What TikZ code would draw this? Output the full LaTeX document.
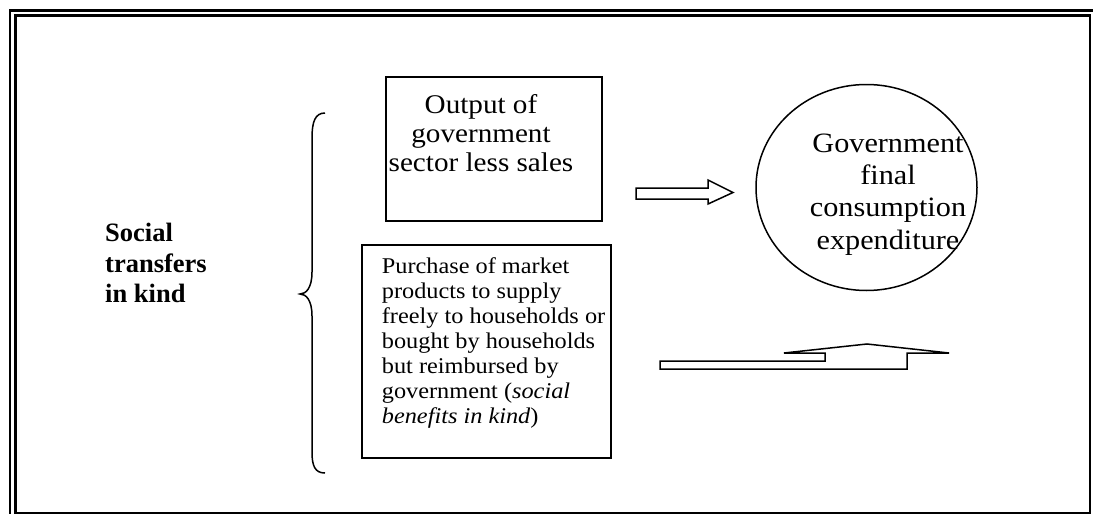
\documentclass[tikz,border=0pt]{standalone}
\usepackage{fontspec}
\setmainfont{Liberation Serif}
\newfontfamily\widefont{Liberation Serif}[FakeStretch=1.08]
\usetikzlibrary{shapes.geometric}
\begin{document}
\begin{tikzpicture}[x=1pt,y=-1pt,
  framel/.style={line width=2.5pt},
  boxstyle/.style={draw, line width=1.6pt, inner sep=0pt},
  hollow/.style={draw, line width=1.5pt, line join=miter},
  txt/.style={inner sep=0pt, anchor=base}]
\useasboundingbox (0,0) rectangle (1093,514);
% frame
\draw[framel] (10,514) -- (10,10.4) -- (1093,10.4);
\draw[framel] (15.4,514) -- (15.4,15.4) -- (1089.8,15.4) -- (1089.8,512.8) -- (15.4,512.8);
% top box
\node[boxstyle, minimum width=216, minimum height=144] (top) at (494,149) {};
\node[txt, align=center, font=\widefont\fontsize{27}{29}\selectfont] (toptxt) at (481,171) {Output of\\government\\sector less sales};
% ellipse
\node[draw, ellipse, line width=1.5pt, minimum width=221, minimum height=206, inner sep=0pt] (gfce) at (866.5,187.5) {};
\node[txt, align=center, font=\widefont\fontsize{28}{32.2}\selectfont] (gfcetxt) at (888,249) {Government\\final\\consumption\\expenditure};
% bottom box
\node[boxstyle, minimum width=249, minimum height=213] (bot) at (486.5,351.5) {};
\node[txt, anchor=base west, align=left, font=\widefont\fontsize{22.5}{25}\selectfont] (bottxt) at (381.7,423.3) {Purchase of market\\products to supply\\freely to households or\\bought by households\\but reimbursed by\\government (\textit{social}\\\textit{benefits in kind})};
% left label
\node[txt, anchor=base west, align=left, font=\fontsize{26.5}{30.5}\selectfont\bfseries] (stik) at (105,302.7) {Social\\transfers\\in kind};
% brace
\draw[line width=1.5pt] (325,113) .. controls (315,113) and (312,122) .. (312,138) -- (312,272)
  .. controls (312,288) and (306,294) .. (300,294)
  .. controls (306,294) and (312,300) .. (312,316) -- (312,452)
  .. controls (312,466) and (315,473) .. (325,473);
% hollow right arrow
\draw[hollow] (636,188) -- (708,188) -- (708,180) -- (733,192.5) -- (708,204) -- (708,199) -- (636,199) -- cycle;
% odd up arrow
\draw[hollow] (660,361) -- (825,361) -- (825,353) -- (784,353) -- (867,344) -- (949,353) -- (907,353) -- (907,369) -- (660,369) -- cycle;
\end{tikzpicture}
\end{document}
